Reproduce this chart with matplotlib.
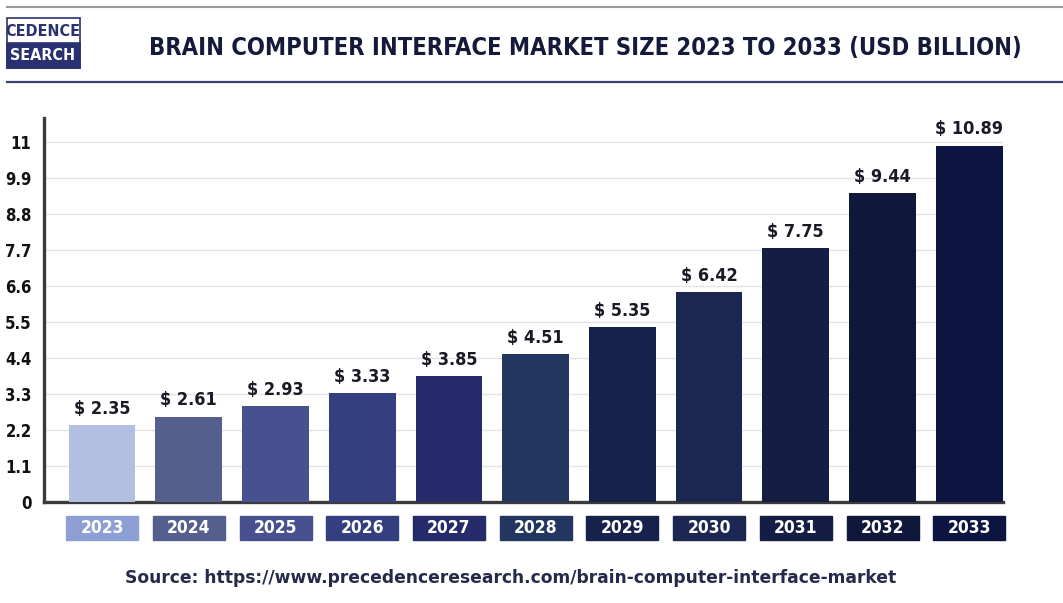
import matplotlib.pyplot as plt
from matplotlib.patches import Rectangle
from matplotlib.transforms import blended_transform_factory

years = ['2023', '2024', '2025', '2026', '2027', '2028', '2029', '2030', '2031', '2032', '2033']
values = [2.35, 2.61, 2.93, 3.33, 3.85, 4.51, 5.35, 6.42, 7.75, 9.44, 10.89]
bar_colors = ['#b3bfe1', '#545f8e', '#47518f', '#343f80', '#252b6a', '#22365f',
              '#16224c', '#1b2750', '#141d44', '#0f173a', '#0c1442']
box_colors = ['#8e9fd5', '#545f8e', '#47518f', '#343f80', '#252b6a', '#22365f',
              '#16224c', '#1b2750', '#141d44', '#0f173a', '#0c1442']
yticks = [0, 1.1, 2.2, 3.3, 4.4, 5.5, 6.6, 7.7, 8.8, 9.9, 11]
ytick_labels = ['0', '1.1', '2.2', '3.3', '4.4', '5.5', '6.6', '7.7', '8.8', '9.9', '11']

plt.rcParams['font.family'] = ['DejaVu Sans']
navy = '#15193a'

fig = plt.figure(figsize=(10.63, 6.03), dpi=100)
fig.patch.set_facecolor('white')
ax = fig.add_axes([0.0414, 0.1675, 0.9022, 0.6368])

x = list(range(len(years)))
ax.bar(x, values, width=0.77, color=bar_colors, zorder=3)
ax.set_xlim(-0.67, 10.39)
ax.set_ylim(0, 11.73)
ax.set_yticks(yticks)
ax.set_yticklabels(ytick_labels, fontsize=12, fontweight='bold', fontstretch='condensed', color='#111111')
ax.set_xticks([])
ax.tick_params(axis='y', length=0, pad=9)
ax.grid(axis='y', color='#e4e4e4', linewidth=1, zorder=0)
for s in ['top', 'right']:
    ax.spines[s].set_visible(False)
for s in ['left', 'bottom']:
    ax.spines[s].set_color('#3a3a3a')
    ax.spines[s].set_linewidth(2.4)

for xi, v in zip(x, values):
    ax.text(xi, v + 0.22, f'$ {v:.2f}', ha='center', va='bottom', fontsize=13,
            fontweight='bold', fontstretch='condensed', color='#1a1a24', zorder=4)

trans = blended_transform_factory(ax.transData, ax.transAxes)
for xi, yr, c in zip(x, years, box_colors):
    ax.add_patch(Rectangle((xi - 0.415, -0.099), 0.83, 0.063, transform=trans,
                           color=c, clip_on=False))
    ax.text(xi, -0.0675, yr, transform=trans, ha='center', va='center', fontsize=12.5,
            fontweight='bold', fontstretch='condensed', color='white')

# header lines
fig.add_artist(plt.Line2D([0.007, 1.0], [1 - 7 / 603, 1 - 7 / 603], color='#9a9a9a', linewidth=1.5))
fig.add_artist(plt.Line2D([0.007, 1.0], [1 - 82 / 603, 1 - 82 / 603], color='#3d4275', linewidth=1.6))

# logo
fig.add_artist(Rectangle((7 / 1063, 1 - 68 / 603), 73 / 1063, 50 / 603, facecolor='white',
                         edgecolor='#2a3170', linewidth=1.2, transform=fig.transFigure))
fig.add_artist(Rectangle((7 / 1063, 1 - 68 / 603), 73 / 1063, 25 / 603, facecolor='#2a3170',
                         edgecolor='#2a3170', linewidth=1.2, transform=fig.transFigure))
fig.text(43 / 1063, 1 - 31 / 603, 'CEDENCE', ha='center', va='center', fontsize=11.5,
         fontweight='bold', fontstretch='condensed', color='#2a3170')
fig.text(43 / 1063, 1 - 56 / 603, 'SEARCH', ha='center', va='center', fontsize=11.5,
         fontweight='bold', fontstretch='condensed', color='white')

fig.text(585 / 1063, 1 - 48 / 603, 'BRAIN COMPUTER INTERFACE MARKET SIZE 2023 TO 2033 (USD BILLION)',
         ha='center', va='center', fontsize=17, fontweight='bold', fontstretch='condensed', color=navy)

fig.text(511 / 1063, 1 - 578 / 603, 'Source: https://www.precedenceresearch.com/brain-computer-interface-market',
         ha='center', va='center', fontsize=12.3, fontweight='bold', color='#252a4a')

plt.savefig('out.png', dpi=100)
